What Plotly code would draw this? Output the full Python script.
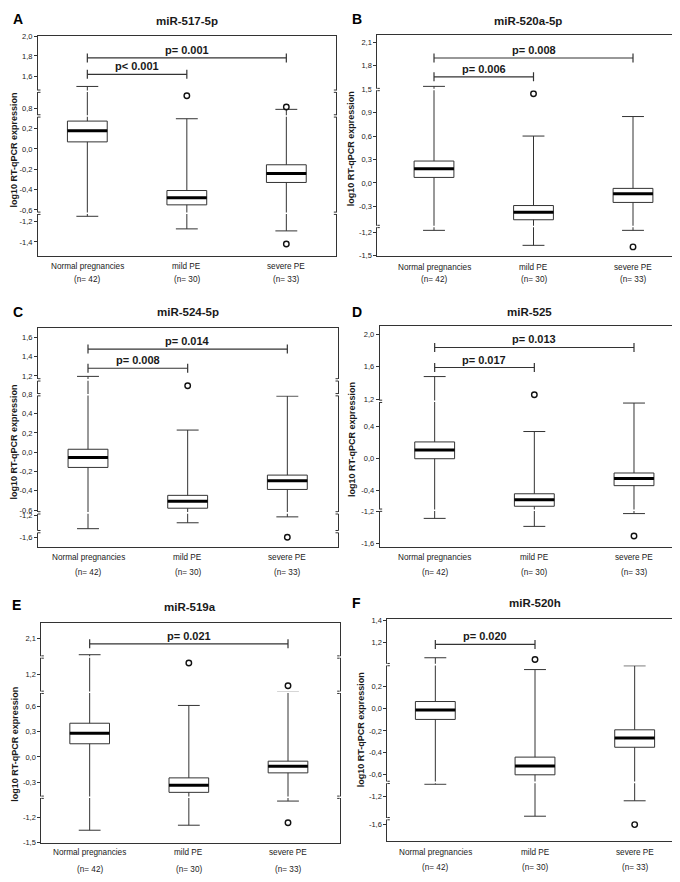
import numpy as np
import plotly.graph_objects as go

W, H = 680, 882

# ---------------- DATA ----------------
categories = ["Normal pregnancies", "mild PE", "severe PE"]
group_sizes = [42, 30, 33]
panel_letters = ["A", "B", "C", "D", "E", "F"]
panel_titles = ["miR-517-5p", "miR-520a-5p", "miR-524-5p", "miR-525", "miR-519a", "miR-520h"]

# Panel A: miR-517-5p  (order: Normal, mild PE, severe PE)
A_upper = [1.35, 0.50, 0.78]
A_q3 = [0.43, -0.41, -0.155]
A_median = [0.18, -0.48, -0.24]
A_q1 = [0.07, -0.55, -0.33]
A_lower = [-0.92, -1.27, -1.29]
A_out_group = [1, 2, 2]
A_out_value = [1.12, 0.84, -1.42]
A_tick_values = [2.0, 1.8, 1.6, 0.8, 0.2, 0.0, -0.2, -0.4, -0.6, -1.2, -1.4]
A_p_target = [1, 2]
A_p_level = [1.62, 1.78]
A_p_text = ["p< 0.001", "p= 0.001"]

# Panel B: miR-520a-5p
B_upper = [1.54, 0.60, 0.85]
B_q3 = [0.28, -0.29, -0.07]
B_median = [0.18, -0.51, -0.14]
B_q1 = [0.07, -0.77, -0.25]
B_lower = [-1.14, -1.37, -1.14]
B_out_group = [1, 2]
B_out_value = [1.39, -1.39]
B_tick_values = [2.1, 1.8, 1.5, 0.9, 0.6, 0.3, 0.0, -0.3, -1.2, -1.5]
B_p_target = [1, 2]
B_p_level = [1.66, 1.90]
B_p_text = ["p= 0.006", "p= 0.008"]

# Panel C: miR-524-5p
C_upper = [1.19, 0.23, 0.77]
C_q3 = [0.03, -0.45, -0.24]
C_median = [-0.055, -0.51, -0.30]
C_q1 = [-0.16, -0.58, -0.39]
C_lower = [-1.44, -1.33, -1.22]
C_out_group = [1, 2]
C_out_value = [0.99, -1.60]
C_tick_values = [1.6, 1.4, 1.2, 0.8, 0.4, 0.2, 0.0, -0.2, -0.4, -0.6, -1.2, -1.6]
C_p_target = [1, 2]
C_p_level = [1.28, 1.48]
C_p_text = ["p= 0.008", "p= 0.014"]

# Panel D: miR-525
D_upper = [1.48, 0.34, 1.10]
D_q3 = [0.21, -0.53, -0.18]
D_median = [0.11, -0.76, -0.25]
D_q1 = [0.00, -1.01, -0.34]
D_lower = [-1.29, -1.39, -1.23]
D_out_group = [1, 2]
D_out_value = [1.26, -1.51]
D_tick_values = [2.0, 1.6, 1.2, 0.4, 0.0, -0.4, -1.2, -1.6]
D_p_target = [1, 2]
D_p_level = [1.59, 1.84]
D_p_text = ["p= 0.017", "p= 0.013"]

# Panel E: miR-519a
E_upper = [1.70, 0.62, 0.87]
E_q3 = [0.40, -0.25, -0.05]
E_median = [0.28, -0.38, -0.11]
E_q1 = [0.156, -0.56, -0.19]
E_lower = [-1.35, -1.29, -0.78]
E_out_group = [1, 2, 2]
E_out_value = [1.49, 0.99, -1.26]
E_tick_values = [2.1, 1.2, 0.6, 0.3, 0.0, -0.3, -1.2, -1.5]
E_p_target = [2]
E_p_level = [1.975]
E_p_text = ["p= 0.021"]

# Panel F: miR-520h
F_upper = [0.85, 0.585, 0.67]
F_q3 = [0.066, -0.44, -0.19]
F_median = [-0.01, -0.52, -0.266]
F_q1 = [-0.096, -0.60, -0.35]
F_lower = [-0.86, -1.48, -1.26]
F_out_group = [1, 2]
F_out_value = [0.81, -1.60]
F_tick_values = [1.4, 1.2, 0.2, 0.0, -0.2, -0.4, -0.6, -1.2, -1.6]
F_p_target = [1]
F_p_level = [1.15]
F_p_text = ["p= 0.020"]

# ---------------- GEOMETRY (layout; panel-local units, 3 units = 1 px) ----------------
panel_origin = [(0, 0), (340, 0), (0, 290), (340, 290), (0, 580), (340, 580)]
frame_x = [(90, 985), (88, 1012), (90, 990), (95, 1012), (100, 995), (118, 1015)]
frame_y = [(72, 740), (70, 740), (88, 752), (83, 752), (112, 778), (100, 773)]
cat_px = [(238, 535, 835), (258, 553, 855), (240, 538, 838), (260, 557, 858), (245, 543, 840), (262, 560, 860)]
# broken-axis scale anchors: screen position of each tick label
A_tick_px = [73, 133, 195, 293, 354, 415, 477, 538, 600, 636, 697]
B_tick_px = [92, 163, 235, 305, 376, 447, 518, 589, 667, 738]
C_tick_px = [117, 175, 233, 290, 347, 406, 464, 522, 580, 640, 657, 722]
D_tick_px = [108, 205, 305, 387, 484, 580, 643, 740]
E_tick_px = [160, 268, 365, 441, 518, 594, 702, 778]
F_tick_px = [103, 170, 305, 372, 439, 505, 572, 638, 723]
break_px = [[240, 315, 610], [235, 650], [245, 290, 648, 705], [310, 640], [215, 322, 640], [238, 595, 705]]
label_rows = [(770, 810), (775, 812), (783, 830), (783, 830), (808, 858), (808, 852)]
title_pos = [(537, 28), (540, 28), (540, 40), (543, 38), (545, 62), (560, 50)]
letter_pos = [(8, 22), (5, 22), (10, 40), (5, 38), (5, 58), (5, 52)]
ytitle_pos = [(18, 420), (10, 415), (18, 435), (12, 427), (22, 480), (38, 435)]

panels = [
    dict(upper=A_upper, q3=A_q3, median=A_median, q1=A_q1, lower=A_lower, og=A_out_group, ov=A_out_value,
         tv=A_tick_values, tp=A_tick_px, pt=A_p_target, pl=A_p_level, ptxt=A_p_text),
    dict(upper=B_upper, q3=B_q3, median=B_median, q1=B_q1, lower=B_lower, og=B_out_group, ov=B_out_value,
         tv=B_tick_values, tp=B_tick_px, pt=B_p_target, pl=B_p_level, ptxt=B_p_text),
    dict(upper=C_upper, q3=C_q3, median=C_median, q1=C_q1, lower=C_lower, og=C_out_group, ov=C_out_value,
         tv=C_tick_values, tp=C_tick_px, pt=C_p_target, pl=C_p_level, ptxt=C_p_text),
    dict(upper=D_upper, q3=D_q3, median=D_median, q1=D_q1, lower=D_lower, og=D_out_group, ov=D_out_value,
         tv=D_tick_values, tp=D_tick_px, pt=D_p_target, pl=D_p_level, ptxt=D_p_text),
    dict(upper=E_upper, q3=E_q3, median=E_median, q1=E_q1, lower=E_lower, og=E_out_group, ov=E_out_value,
         tv=E_tick_values, tp=E_tick_px, pt=E_p_target, pl=E_p_level, ptxt=E_p_text),
    dict(upper=F_upper, q3=F_q3, median=F_median, q1=F_q1, lower=F_lower, og=F_out_group, ov=F_out_value,
         tv=F_tick_values, tp=F_tick_px, pt=F_p_target, pl=F_p_level, ptxt=F_p_text),
]

FONT = "Liberation Sans, Arial, sans-serif"
INK = "#1a1a1a"
LINE = "#333333"
BOX_W = 0.4


def make_scale(values, pos_px):
    """Piecewise-linear broken-axis scale: value -> display coordinate (-px)."""
    v = np.array(values, float)[::-1]
    d = -np.array(pos_px, float)[::-1]

    def f(x):
        x = np.asarray(x, float)
        y = np.interp(x, v, d)
        lo_s = (d[1] - d[0]) / (v[1] - v[0])
        hi_s = (d[-1] - d[-2]) / (v[-1] - v[-2])
        y = np.where(x < v[0], d[0] + (x - v[0]) * lo_s, y)
        y = np.where(x > v[-1], d[-1] + (x - v[-1]) * hi_s, y)
        return y
    return f


def fmt(v):
    return f"{v:.1f}".replace(".", ",")


fig = go.Figure()
layout = dict(width=W, height=H, margin=dict(l=0, r=0, t=0, b=0), paper_bgcolor="white",
              plot_bgcolor="white", showlegend=False, font=dict(family=FONT, color=INK))
annotations = []
shapes = []

for k, p in enumerate(panels):
    n = "" if k == 0 else str(k + 1)
    xr, yr = "x" + n, "y" + n
    ox, oy = panel_origin[k]
    fx0, fx1 = frame_x[k]
    fy0, fy1 = frame_y[k]
    c0, c1, c2 = cat_px[k]
    sp = (c2 - c0) / 2.0
    x_range = [-(c0 - fx0) / sp, 2 + (fx1 - c2) / sp]
    scale = make_scale(p["tv"], p["tp"])
    xs = np.arange(len(categories))

    layout["xaxis" + n] = dict(
        domain=[(ox + fx0 / 3) / W, (ox + fx1 / 3) / W], anchor=yr, range=x_range,
        showticklabels=False, ticks="", showgrid=False, zeroline=False,
        showline=True, mirror=True, linecolor=LINE, linewidth=1, fixedrange=True)
    layout["yaxis" + n] = dict(
        domain=[1 - (oy + fy1 / 3) / H, 1 - (oy + fy0 / 3) / H], anchor=xr,
        range=[-fy1, -fy0], tickmode="array", tickvals=list(scale(p["tv"])),
        ticktext=[fmt(v) for v in p["tv"]], ticks="outside", ticklen=3, tickcolor=LINE,
        tickfont=dict(size=7.5, color=INK, family=FONT), showgrid=False, zeroline=False,
        showline=True, mirror=True, linecolor=LINE, linewidth=1, fixedrange=True)

    fig.add_trace(go.Box(
        x=list(xs), q1=list(scale(p["q1"])), median=list(scale(p["median"])),
        q3=list(scale(p["q3"])), lowerfence=list(scale(p["lower"])),
        upperfence=list(scale(p["upper"])), width=BOX_W, whiskerwidth=0.55,
        fillcolor="white", line=dict(color=LINE, width=1), boxpoints=False,
        xaxis=xr, yaxis=yr, hoverinfo="skip"))

    mx, my = [], []
    for i, m in zip(xs, scale(p["median"])):
        mx += [i - BOX_W / 2, i + BOX_W / 2, None]
        my += [m, m, None]
    fig.add_trace(go.Scatter(x=mx, y=my, mode="lines", line=dict(color="#000", width=3),
                             xaxis=xr, yaxis=yr, hoverinfo="skip"))

    fig.add_trace(go.Scatter(
        x=p["og"], y=list(scale(p["ov"])), mode="markers",
        marker=dict(symbol="circle-open", size=5.5, color="#111", line=dict(width=1.4)),
        xaxis=xr, yaxis=yr, hoverinfo="skip"))

    # significance brackets
    for tgt, lvl, txt in zip(p["pt"], p["pl"], p["ptxt"]):
        yd = float(scale(lvl))
        shapes.append(dict(type="line", xref=xr, yref=yr, x0=0, x1=tgt, y0=yd, y1=yd,
                           line=dict(color=LINE, width=1.2)))
        for xe in (0, tgt):
            shapes.append(dict(type="line", xref=xr, yref=yr, x0=xe, x1=xe,
                               ysizemode="pixel", yanchor=yd, y0=-4.5, y1=4.5,
                               line=dict(color=LINE, width=1.2)))
        annotations.append(dict(xref=xr, yref=yr, x=tgt / 2, y=yd, text="<b>" + txt + "</b>",
                                showarrow=False, yanchor="bottom", yshift=0,
                                font=dict(size=11, color=INK, family=FONT)))

    # axis breaks
    for bp in break_px[k]:
        shapes.append(dict(type="line", xref=xr + " domain", yref=yr, x0=-0.02, x1=1.02,
                           y0=-bp, y1=-bp, line=dict(color="white", width=1.6), layer="above"))
        for xa in x_range:
            for dy in (-3.5, 3.5):
                shapes.append(dict(type="line", xref=xr, yref=yr, xsizemode="pixel", xanchor=xa,
                                   x0=-2.5, x1=2.5, y0=-bp + dy, y1=-bp + dy,
                                   line=dict(color=LINE, width=1), layer="above"))

    # category labels
    r1, r2 = label_rows[k]
    for i, (cat, nn) in enumerate(zip(categories, group_sizes)):
        annotations.append(dict(xref=xr, yref="paper", x=i, y=1 - (oy + r1 / 3) / H, text=cat,
                                showarrow=False, yanchor="middle",
                                font=dict(size=8.2, color=INK, family=FONT)))
        annotations.append(dict(xref=xr, yref="paper", x=i, y=1 - (oy + r2 / 3) / H,
                                text=f"(n= {nn})", showarrow=False, yanchor="middle",
                                font=dict(size=8.2, color=INK, family=FONT)))

    tx, ty = title_pos[k]
    annotations.append(dict(xref="paper", yref="paper", x=(ox + tx / 3) / W, y=1 - (oy + ty / 3) / H,
                            text="<b>" + panel_titles[k] + "</b>", showarrow=False,
                            xanchor="center", yanchor="middle",
                            font=dict(size=11.5, color=INK, family=FONT)))
    lx, ly = letter_pos[k]
    annotations.append(dict(xref="paper", yref="paper", x=(ox + lx / 3) / W, y=1 - (oy + ly / 3) / H,
                            text="<b>" + panel_letters[k] + "</b>", showarrow=False,
                            xanchor="left", yanchor="middle",
                            font=dict(size=14, color="#000", family=FONT)))
    yx, yy = ytitle_pos[k]
    annotations.append(dict(xref="paper", yref="paper", x=(ox + yx / 3) / W, y=1 - (oy + yy / 3) / H,
                            text="<b>log10 RT-qPCR expression</b>", showarrow=False, textangle=-90,
                            xanchor="center", yanchor="middle",
                            font=dict(size=9, color=INK, family=FONT)))

layout["annotations"] = annotations
layout["shapes"] = shapes
fig.update_layout(**layout)
fig.write_html("out.html")
